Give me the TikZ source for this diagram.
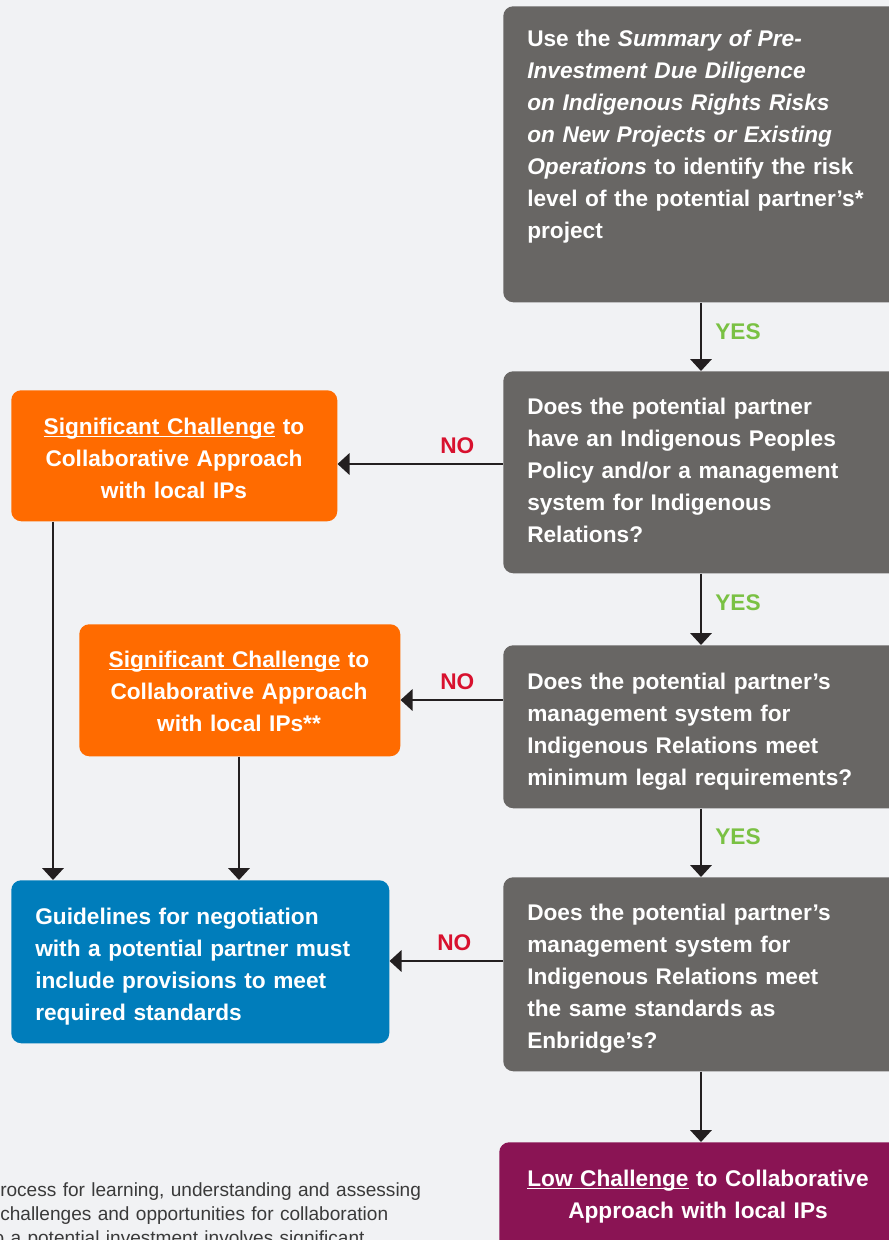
\documentclass[tikz,border=0pt]{standalone}
\usepackage{fontspec}
\setmainfont{Liberation Sans}
\usetikzlibrary{arrows.meta}
\definecolor{bg}{HTML}{F1F2F4}
\definecolor{boxgray}{HTML}{686664}
\definecolor{orng}{HTML}{FF6B00}
\definecolor{blu}{HTML}{007DBB}
\definecolor{mag}{HTML}{8A1454}
\definecolor{grn}{HTML}{7AC143}
\definecolor{rd}{HTML}{D8112E}
\definecolor{ink}{HTML}{231F20}
\definecolor{notecol}{HTML}{3A3A3A}
\newcommand\myul[1]{\setbox0\hbox{#1}\rlap{\rule[-2.2pt]{\wd0}{0.7pt}}\box0\relax}
\begin{document}
\begin{tikzpicture}[x=0.75pt,y=-0.75pt,
  box/.style={rectangle, rounded corners=7.5pt, inner sep=0pt, anchor=north west},
  wh/.style 2 args={minimum width=#1*0.75pt, minimum height=#2*0.75pt},
  bt/.style={text=white, font=\fontsize{17pt}{24pt}\selectfont\bfseries, inner sep=0pt,
    text width=400*0.75pt, align=left, anchor=base west},
  ct/.style={bt, text width=360*0.75pt, align=center, anchor=base},
  yes/.style={text=grn, font=\fontsize{17pt}{20pt}\selectfont\bfseries, inner sep=0pt, anchor=base west},
  no/.style={text=rd, font=\fontsize{17pt}{20pt}\selectfont\bfseries, inner sep=0pt, anchor=base west},
  arr/.style={draw=ink, line width=1.9pt, -{Triangle[width=16pt,length=9pt]}},
  notestyle/.style={text=notecol, font=\fontsize{14.3pt}{18pt}\selectfont, inner sep=0pt,
    text width=520*0.75pt, align=left, anchor=base west}]
\useasboundingbox (0,0) rectangle (889,1240);
\clip (0,0) rectangle (889,1240);
\fill[bg] (0,0) rectangle (889,1240);

% boxes
\node[box, fill=boxgray, wh={402}{296}] (b1) at (503,6) {};
\node[box, fill=boxgray, wh={402}{202}] (b2) at (503,371) {};
\node[box, fill=boxgray, wh={402}{163}] (b3) at (503,645) {};
\node[box, fill=boxgray, wh={402}{194}] (b4) at (503,877) {};
\node[box, fill=mag, wh={406}{130}] (b5) at (499,1142) {};
\node[box, fill=orng, wh={326}{131}] (o1) at (11,390) {};
\node[box, fill=orng, wh={321}{132}] (o2) at (79,624) {};
\node[box, fill=blu, wh={378}{163}] (bl) at (11,880) {};

% texts
\node[bt] (t1) at (527,46) {Use the \textit{Summary of Pre-}\\\textit{Investment Due Diligence}\\\textit{on Indigenous Rights Risks}\\\textit{on New Projects or Existing}\\\textit{Operations} to identify the risk\\level of the potential partner’s*\\project};
\node[bt] (t2) at (527,414) {Does the potential partner\\have an Indigenous Peoples\\Policy and/or a management\\system for Indigenous\\Relations?};
\node[bt] (t3) at (527,689) {Does the potential partner’s\\management system for\\Indigenous Relations meet\\minimum legal requirements?};
\node[bt] (t4) at (527,920) {Does the potential partner’s\\management system for\\Indigenous Relations meet\\the same standards as\\Enbridge’s?};
\node[ct] (t5) at (698,1186) {\myul{Low Challenge} to Collaborative\\Approach with local IPs};
\node[ct] (to1) at (174,434) {\myul{Significant Challenge} to\\Collaborative Approach\\with local IPs};
\node[ct] (to2) at (239,667) {\myul{Significant Challenge} to\\Collaborative Approach\\with local IPs**};
\node[bt] (tb) at (35,924) {Guidelines for negotiation\\with a potential partner must\\include provisions to meet\\required standards};

% labels
\node[yes] (y1) at (715,339) {YES};
\node[yes] (y2) at (715,610) {YES};
\node[yes] (y3) at (715,844) {YES};
\node[no] (n1) at (440,453) {NO};
\node[no] (n2) at (440,689) {NO};
\node[no] (n3) at (437,950) {NO};

% helper coordinates
\coordinate (xa) at (701,0);
\coordinate (xo1) at (53,0);
\coordinate (xo2) at (239,0);
\coordinate (ya) at (0,464);
\coordinate (yb) at (0,700);
\coordinate (yc) at (0,961);

% connectors
\draw[arr] (b1.south -| xa) -- (b2.north -| xa);
\draw[arr] (b2.south -| xa) -- (b3.north -| xa);
\draw[arr] (b3.south -| xa) -- (b4.north -| xa);
\draw[arr] (b4.south -| xa) -- (b5.north -| xa);
\draw[arr] (b2.west |- ya) -- (o1.east |- ya);
\draw[arr] (b3.west |- yb) -- (o2.east |- yb);
\draw[arr] (b4.west |- yc) -- (bl.east |- yc);
\draw[arr] (o1.south -| xo1) -- (bl.north -| xo1);
\draw[arr] (o2.south -| xo2) -- (bl.north -| xo2);

% note text
\node[notestyle] (nt) at (0,1196) {rocess for learning, understanding and assessing\\challenges and opportunities for collaboration\\\hspace*{-5pt}o a potential investment involves significant};
\end{tikzpicture}
\end{document}
